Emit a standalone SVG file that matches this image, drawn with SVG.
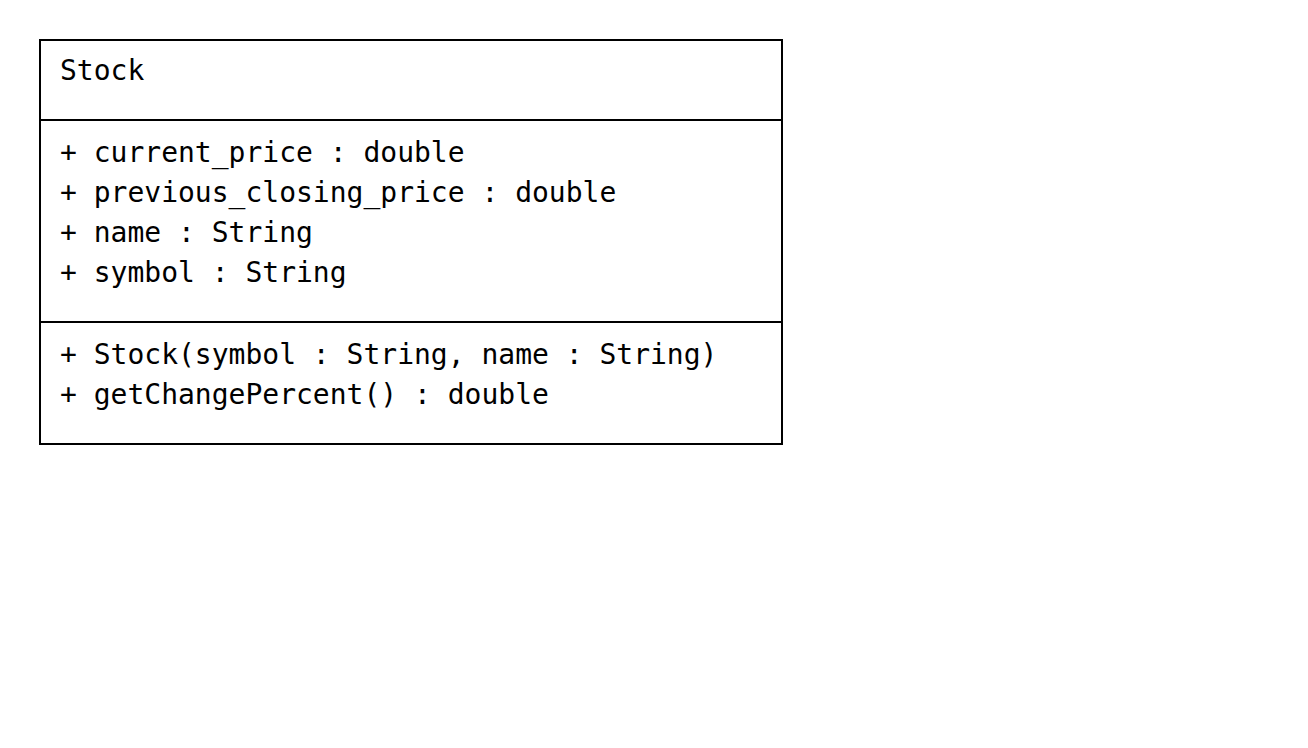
<svg xmlns="http://www.w3.org/2000/svg" width="1308" height="748" viewBox="0 0 1308 748">
<style>
.t{font-family:"DejaVu Sans Mono","Liberation Mono",monospace;font-size:28px;fill:#000}
.b{fill:none;stroke:#000;stroke-width:2}
</style>
<rect width="1308" height="748" fill="#fff"/>
<g id="Stock">
<rect class="b" x="40" y="40" width="742" height="404"/>
<line class="b" x1="40" y1="120" x2="782" y2="120"/>
<line class="b" x1="40" y1="322" x2="782" y2="322"/>
<text class="t" x="60" y="80">Stock</text>
<text class="t" x="60" y="162">+ current_price : double</text>
<text class="t" x="60" y="202">+ previous_closing_price : double</text>
<text class="t" x="60" y="242">+ name : String</text>
<text class="t" x="60" y="282">+ symbol : String</text>
<text class="t" x="60" y="364">+ Stock(symbol : String, name : String)</text>
<text class="t" x="60" y="404">+ getChangePercent() : double</text>
</g>
<g id="connectors"/>
</svg>
